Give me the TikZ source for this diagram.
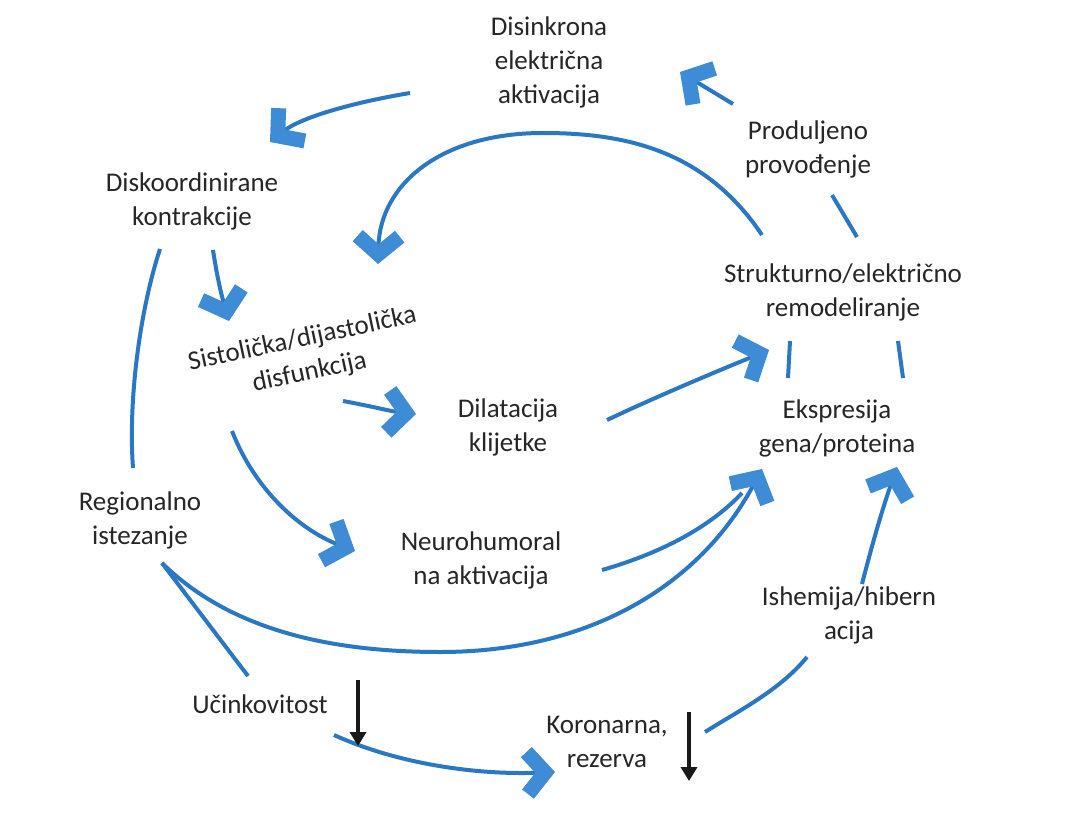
\documentclass[tikz,border=0pt]{standalone}
\usepackage{fontspec}
\setmainfont{Carlito}
\usetikzlibrary{arrows.meta}
\definecolor{arrblue}{RGB}{42,120,196}
\definecolor{headblue}{RGB}{62,140,214}
\definecolor{txt}{RGB}{38,38,38}
\tikzset{
  lbl/.style={align=center, font=\fontsize{27}{34}\selectfont, text=txt, inner sep=2pt},
  conn/.style={draw=arrblue, line width=4pt},
  chev/.style={conn, -{Straight Barb[length=18pt,width=42pt,line width=15pt,color=headblue,line join=miter]}},
  darr/.style={draw=black!90, line width=4pt, -{Triangle[length=14pt,width=16pt]}}
}
\begin{document}
\begin{tikzpicture}[x=1pt,y=-1pt]
\useasboundingbox (0,0) rectangle (1070,813);
\fill[white] (0,0) rectangle (1070,813);

% text nodes
\node[lbl] (dis)  at (549,62)  {Disinkrona\\električna\\aktivacija};
\node[lbl] (prod) at (808,149) {Produljeno\\provođenje};
\node[lbl] (disk) at (192,201) {Diskoordinirane\\kontrakcije};
\node[lbl] (str)  at (843,292) {Strukturno/električno\\remodeliranje};
\node[lbl, rotate=12] (sis) at (306,356) {Sistolička/dijastolička\\disfunkcija};
\node[lbl] (dil)  at (508,427) {Dilatacija\\klijetke};
\node[lbl] (eks)  at (837,428) {Ekspresija\\gena/proteina};
\node[lbl] (reg)  at (140,520) {Regionalno\\istezanje};
\node[lbl] (neu)  at (481,560) {Neurohumoral\\na aktivacija};
\node[lbl] (ish)  at (849,615) {Ishemija/hibern\\acija};
\node[lbl] (uc)   at (260,704) {Učinkovitost};
\node[lbl] (kor)  at (607,742) {Koronarna,\\rezerva};

% connector end points
\coordinate (disL)   at (410,93);
\coordinate (diskT)  at (270,142);
\coordinate (strTL)  at (762,235);
\coordinate (arcTop) at (543,133);
\coordinate (sisTop) at (378,264);
\coordinate (strTR)  at (857,237);
\coordinate (prodB)  at (832,195);
\coordinate (prodT)  at (733,104);
\coordinate (disR)   at (680,72);
\coordinate (diskB)  at (213,250);
\coordinate (sisT)   at (229,321);
\coordinate (sisR)   at (343,401);
\coordinate (dilL)   at (416,414);
\coordinate (sisB)   at (232,431);
\coordinate (neuL)   at (355,551);
\coordinate (dilR)   at (607,420);
\coordinate (strB)   at (769,350);
\coordinate (neuR)   at (602,570);
\coordinate (neuE)   at (742,493);
\coordinate (eksL)   at (762,469);
\coordinate (regB)   at (162,563);
\coordinate (bottom) at (440,652);
\coordinate (diskL)  at (160,249);
\coordinate (regT)   at (133,468);
\coordinate (ucT)    at (248,676);
\coordinate (ucR)    at (334,735);
\coordinate (korL)   at (555,772);
\coordinate (korR)   at (705,732);
\coordinate (ishB)   at (807,657);
\coordinate (ishT)   at (862,584);
\coordinate (eksR)   at (897,467);
\coordinate (strBL)  at (790,341);
\coordinate (eksTL)  at (788,378);
\coordinate (strBR)  at (898,341);
\coordinate (eksTR)  at (903,378);

% blue connectors
\draw[conn] (strTR) -- (prodB);
\draw[conn] (diskL) .. controls (140,310) and (128,400) .. (regT);
\draw[conn] (regB) -- (ucT);
\draw[conn] (korR) .. controls (740,710) and (780,690) .. (ishB);
\draw[conn] (strBL) -- (eksTL);
\draw[conn] (strBR) -- (eksTR);
\draw[conn] (neuR) .. controls (665,552) and (712,525) .. (neuE);
\draw[chev] (disL) .. controls (350,103) and (300,118) .. (diskT);
\draw[chev] (strTL) .. controls (705,150) and (625,133) .. (arcTop)
            .. controls (440,133) and (380,185) .. (sisTop);
\draw[chev] (prodT) -- (disR);
\draw[chev] (diskB) .. controls (216,270) and (220,290) .. (sisT);
\draw[chev] (sisR) .. controls (370,406) and (395,412) .. (dilL);
\draw[chev] (sisB) .. controls (255,490) and (300,530) .. (neuL);
\draw[chev] (dilR) .. controls (660,395) and (720,370) .. (strB);
\draw[chev] (regB) .. controls (230,630) and (330,652) .. (bottom)
            .. controls (590,652) and (700,585) .. (eksL);
\draw[chev] (ucR) .. controls (400,765) and (480,775) .. (korL);
\draw[chev] (ishT) .. controls (872,545) and (882,510) .. (eksR);

% black arrows
\coordinate (a1s) at (358,680);
\coordinate (a1e) at (358,746);
\coordinate (a2s) at (689,712);
\coordinate (a2e) at (689,781);
\draw[darr] (a1s) -- (a1e);
\draw[darr] (a2s) -- (a2e);
\end{tikzpicture}
\end{document}
